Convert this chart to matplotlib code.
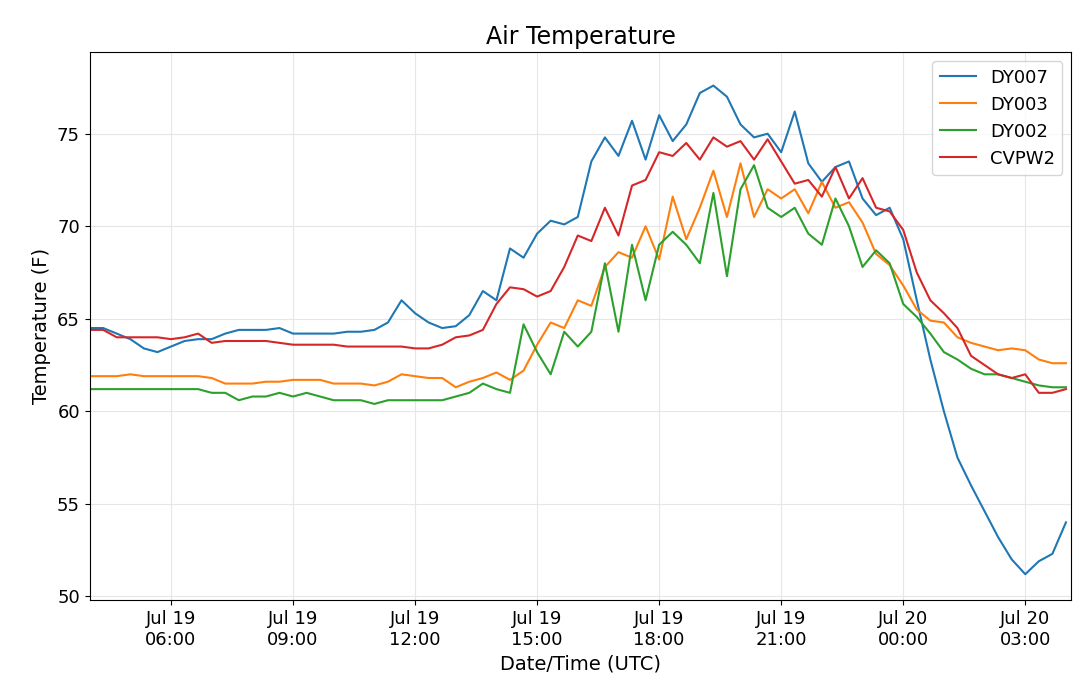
import numpy as np
import matplotlib
matplotlib.use("Agg")
import matplotlib.pyplot as plt
import matplotlib.dates as mdates
import pandas as pd

times = pd.date_range("2019-07-19 04:00", "2019-07-20 04:00", freq="20min")

dy007 = [64.5, 64.5, 64.2, 63.9, 63.4, 63.2, 63.5, 63.8, 63.9, 63.9, 64.2, 64.4,
         64.4, 64.4, 64.5, 64.2, 64.2, 64.2, 64.2, 64.3, 64.3, 64.4, 64.8, 66.0,
         65.3, 64.8, 64.5, 64.6, 65.2, 66.5, 66.0, 68.8, 68.3, 69.6, 70.3, 70.1,
         70.5, 73.5, 74.8, 73.8, 75.7, 73.6, 76.0, 74.6, 75.5, 77.2, 77.6, 77.0,
         75.5, 74.8, 75.0, 74.0, 76.2, 73.4, 72.4, 73.2, 73.5, 71.5, 70.6, 71.0,
         69.3, 66.0, 62.8, 60.0, 57.5, 56.0, 54.6, 53.2, 52.0, 51.2, 51.9, 52.3,
         54.0]
dy003 = [61.9, 61.9, 61.9, 62.0, 61.9, 61.9, 61.9, 61.9, 61.9, 61.8, 61.5, 61.5,
         61.5, 61.6, 61.6, 61.7, 61.7, 61.7, 61.5, 61.5, 61.5, 61.4, 61.6, 62.0,
         61.9, 61.8, 61.8, 61.3, 61.6, 61.8, 62.1, 61.7, 62.2, 63.6, 64.8, 64.5,
         66.0, 65.7, 67.8, 68.6, 68.3, 70.0, 68.2, 71.6, 69.3, 71.0, 73.0, 70.5,
         73.4, 70.5, 72.0, 71.5, 72.0, 70.7, 72.4, 71.0, 71.3, 70.2, 68.5, 67.9,
         66.8, 65.5, 64.9, 64.8, 64.0, 63.7, 63.5, 63.3, 63.4, 63.3, 62.8, 62.6,
         62.6]
dy002 = [61.2, 61.2, 61.2, 61.2, 61.2, 61.2, 61.2, 61.2, 61.2, 61.0, 61.0, 60.6,
         60.8, 60.8, 61.0, 60.8, 61.0, 60.8, 60.6, 60.6, 60.6, 60.4, 60.6, 60.6,
         60.6, 60.6, 60.6, 60.8, 61.0, 61.5, 61.2, 61.0, 64.7, 63.2, 62.0, 64.3,
         63.5, 64.3, 68.0, 64.3, 69.0, 66.0, 69.0, 69.7, 69.0, 68.0, 71.8, 67.3,
         72.0, 73.3, 71.0, 70.5, 71.0, 69.6, 69.0, 71.5, 70.0, 67.8, 68.7, 68.0,
         65.8, 65.1, 64.2, 63.2, 62.8, 62.3, 62.0, 62.0, 61.8, 61.6, 61.4, 61.3,
         61.3]
cvpw2 = [64.4, 64.4, 64.0, 64.0, 64.0, 64.0, 63.9, 64.0, 64.2, 63.7, 63.8, 63.8,
         63.8, 63.8, 63.7, 63.6, 63.6, 63.6, 63.6, 63.5, 63.5, 63.5, 63.5, 63.5,
         63.4, 63.4, 63.6, 64.0, 64.1, 64.4, 65.8, 66.7, 66.6, 66.2, 66.5, 67.8,
         69.5, 69.2, 71.0, 69.5, 72.2, 72.5, 74.0, 73.8, 74.5, 73.6, 74.8, 74.3,
         74.6, 73.6, 74.7, 73.5, 72.3, 72.5, 71.6, 73.2, 71.5, 72.6, 71.0, 70.8,
         69.8, 67.5, 66.0, 65.3, 64.5, 63.0, 62.5, 62.0, 61.8, 62.0, 61.0, 61.0,
         61.2]

fig = plt.figure(figsize=(10.8, 6.97), dpi=100)
ax = fig.add_axes([0.083, 0.139, 0.909, 0.786])
ax.plot(times, dy007, label="DY007", color="#1f77b4")
ax.plot(times, dy003, label="DY003", color="#ff7f0e")
ax.plot(times, dy002, label="DY002", color="#2ca02c")
ax.plot(times, cvpw2, label="CVPW2", color="#d62728")

ax.set_xlim(pd.Timestamp("2019-07-19 04:00"), pd.Timestamp("2019-07-20 04:08"))
ax.set_ylim(49.8, 79.4)
ax.set_yticks([50, 55, 60, 65, 70, 75])
ax.xaxis.set_major_locator(mdates.HourLocator(byhour=[0, 3, 6, 9, 12, 15, 18, 21]))
ax.xaxis.set_major_formatter(mdates.DateFormatter("%b %d\n%H:%M"))
ax.tick_params(labelsize=13)
ax.grid(True, color="#e6e6e6")
ax.set_title("Air Temperature", fontsize=17)
ax.set_xlabel("Date/Time (UTC)", fontsize=14)
ax.set_ylabel("Temperature (F)", fontsize=14)
ax.legend(loc="upper right", fontsize=13)
fig.savefig("out.png", dpi=100)
